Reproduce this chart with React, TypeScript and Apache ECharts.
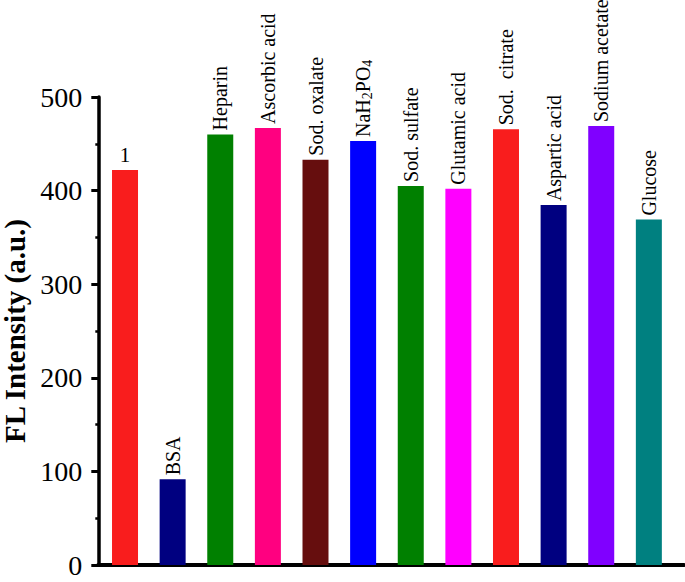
import React, { useEffect, useRef } from "react";
import * as echarts from "echarts";

const categories = [
  "1",
  "BSA",
  "Heparin",
  "Ascorbic acid",
  "Sod. oxalate",
  "NaH2PO4",
  "Sod. sulfate",
  "Glutamic acid",
  "Sod.  citrate",
  "Aspartic acid",
  "Sodium acetate",
  "Glucose",
];
const values = [422, 91.5, 460, 467, 433, 453, 405, 402, 465.5, 384.5, 469, 369];
const colors = [
  "#F91D1D",
  "#000080",
  "#008000",
  "#FF0080",
  "#660E0E",
  "#0000FF",
  "#008000",
  "#FF00FF",
  "#F91D1D",
  "#000080",
  "#8000FF",
  "#008080",
];
const yTicks = [0, 100, 200, 300, 400, 500];

const FONT = '"Times New Roman", "Liberation Serif", serif';

export default function App() {
  const ref = useRef<HTMLDivElement>(null);
  useEffect(() => {
    if (!ref.current) return;
    const chart = echarts.init(ref.current, null, { renderer: "svg" });
    const data = categories.map((c, i) => {
      const item: any = {
        name: c,
        value: [i, values[i]],
        itemStyle: { color: colors[i] },
      };
      if (i === 0) {
        item.label = {
          rotate: 0,
          align: "center",
          verticalAlign: "bottom",
          fontSize: 21,
          distance: 5,
        };
      }
      return item;
    });
    chart.setOption({
      animation: false,
      grid: {
        left: 98.3,
        right: 1,
        top: 97,
        bottom: 17,
        containLabel: false,
        outerBoundsMode: "none",
      },
      xAxis: {
        type: "value",
        min: -0.561,
        max: 11.738,
        axisLine: { show: true, onZero: false, lineStyle: { color: "#000", width: 4 } },
        axisTick: { show: false },
        axisLabel: { show: false },
        splitLine: { show: false },
      },
      yAxis: {
        type: "value",
        min: yTicks[0],
        max: yTicks[yTicks.length - 1],
        interval: 100,
        name: "FL Intensity (a.u.)",
        nameLocation: "middle",
        nameGap: 65,
        nameTextStyle: {
          fontFamily: FONT,
          fontWeight: "bold",
          fontSize: 29,
          color: "#000",
        },
        axisLine: { show: true, onZero: false, lineStyle: { color: "#000", width: 3.5 } },
        axisTick: { show: true, inside: false, length: 7, lineStyle: { color: "#000", width: 3 } },
        minorTick: { show: true, splitNumber: 2, length: 3, lineStyle: { color: "#000", width: 2.5 } },
        axisLabel: {
          fontFamily: FONT,
          fontSize: 28,
          color: "#000",
          margin: 16,
        },
        splitLine: { show: false },
      },
      series: [
        {
          type: "bar",
          barWidth: 26,
          data,
          label: {
            show: true,
            position: "top",
            rotate: 90,
            align: "left",
            verticalAlign: "middle",
            distance: 4,
            fontFamily: FONT,
            fontSize: 20,
            color: "#000",
            formatter: (p: any) => String(p.name).replace(/([A-Za-z])(\d)/g, "$1{sub|$2}"),
            rich: {
              sub: { fontFamily: FONT, fontSize: 14, color: "#000", padding: [9, 0, 0, 0] },
            },
          },
        },
      ],
    });
    return () => chart.dispose();
  }, []);
  return (
    <div
      ref={ref}
      style={{ position: "fixed", left: 0, top: 0, width: 685, height: 582, background: "#fff" }}
    />
  );
}
